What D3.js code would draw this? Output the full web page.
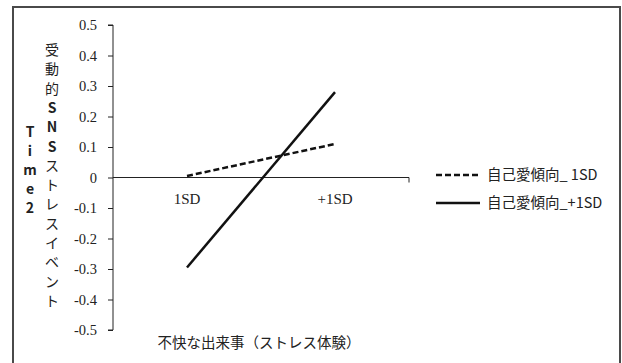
<!DOCTYPE html>
<html lang="ja">
<head>
<meta charset="utf-8">
<style>
  body { margin: 0; background: white; }
  svg { display: block; font-family: "Noto Sans CJK JP", sans-serif; }
  .serif { font-family: "Liberation Serif", "Times New Roman", serif; }
  .domain, .tick line { stroke: #222; }
</style>
</head>
<body>
<svg width="622" height="363"></svg>
<script src="https://cdn.jsdelivr.net/npm/d3@7"></script>
<script>
// data
var categories = ["1SD", "+1SD"];
var lowNarc = [0.005, 0.11];     // 自己愛傾向_ 1SD (dashed)
var highNarc = [-0.295, 0.28];   // 自己愛傾向_+1SD (solid)
var yTicks = [0.5, 0.4, 0.3, 0.2, 0.1, 0, -0.1, -0.2, -0.3, -0.4, -0.5];
var yTitle = "受動的SNSストレスイベント";
var yTitle2 = "Time2";
var xTitle = "不快な出来事（ストレス体験）";
var legendLabels = ["自己愛傾向_ 1SD", "自己愛傾向_+1SD"];

var svg = d3.select("svg");

// outer frame
svg.append("rect")
  .attr("x", 13).attr("y", 7)
  .attr("width", 607).attr("height", 370)
  .attr("fill", "none").attr("stroke", "#4a4a4a").attr("stroke-width", 2);

var x = d3.scaleBand().domain(categories).range([113, 409]);
var y = d3.scaleLinear().domain([-0.5, 0.5]).range([330, 25]);

// y axis (hyphen minus like the original)
var yg = svg.append("g")
  .attr("transform", "translate(113,0)")
  .call(d3.axisLeft(y).tickValues(yTicks).tickSize(5).tickPadding(11)
    .tickFormat(d => d === 0 ? "0" : d3.format(".1f")(d).replace("\u2212", "-")))
  .call(g => g.select(".domain").attr("d", "M-5," + y(0.5) + "H0V" + y(-0.5) + "H-5"));
yg.selectAll(".tick text")
  .attr("class", "serif")
  .style("font-size", "14.5px")
  .attr("fill", "#222");

// x axis at zero
var xg = svg.append("g").attr("transform", "translate(0," + y(0) + ")");
xg.append("line")
  .attr("x1", 113).attr("x2", 409)
  .attr("stroke", "#222");
xg.append("line")
  .attr("x1", 409).attr("x2", 409).attr("y1", 0).attr("y2", 5)
  .attr("stroke", "#222");
xg.selectAll("text.cat")
  .data(categories)
  .enter().append("text")
  .attr("class", "serif")
  .attr("x", d => x(d) + x.bandwidth() / 2)
  .attr("y", 26)
  .attr("text-anchor", "middle")
  .style("font-size", "15px")
  .attr("fill", "#222")
  .text(d => d);

// lines
var line = d3.line()
  .x((d, i) => x(categories[i]) + x.bandwidth() / 2)
  .y(d => y(d));

svg.append("path")
  .datum(lowNarc)
  .attr("d", line)
  .attr("fill", "none").attr("stroke", "#111")
  .attr("stroke-width", 2.5).attr("stroke-dasharray", "6,3");

svg.append("path")
  .datum(highNarc)
  .attr("d", line)
  .attr("fill", "none").attr("stroke", "#111")
  .attr("stroke-width", 2.5);

// y titles, stacked characters
svg.append("g").selectAll("text")
  .data(Array.from(yTitle))
  .enter().append("text")
  .attr("x", 52)
  .attr("y", (d, i) => 55 + i * 19.3)
  .attr("text-anchor", "middle")
  .style("font-size", "14px")
  .style("font-weight", d => /[A-Z]/.test(d) ? "bold" : "normal")
  .attr("fill", "#222")
  .text(d => d);

svg.append("g").selectAll("text")
  .data(Array.from(yTitle2))
  .enter().append("text")
  .attr("x", 30)
  .attr("y", (d, i) => 137 + i * 19)
  .attr("text-anchor", "middle")
  .style("font-size", "14px")
  .style("font-weight", "bold")
  .attr("fill", "#222")
  .text(d => d);

// x title
svg.append("text")
  .attr("x", 259).attr("y", 348)
  .attr("text-anchor", "middle")
  .style("font-size", "14.5px")
  .attr("fill", "#222")
  .text(xTitle);

// legend
var leg = svg.append("g");
legendLabels.forEach(function(lab, i) {
  var ly = 175 + i * 28;
  leg.append("line")
    .attr("x1", 436).attr("x2", 480).attr("y1", ly).attr("y2", ly)
    .attr("stroke", "#111").attr("stroke-width", 2.5)
    .attr("stroke-dasharray", i === 0 ? "6,3" : null);
  leg.append("text")
    .attr("x", 487).attr("y", ly + 5)
    .style("font-size", "14.5px")
    .attr("fill", "#222")
    .text(lab);
});
</script>
</body>
</html>
